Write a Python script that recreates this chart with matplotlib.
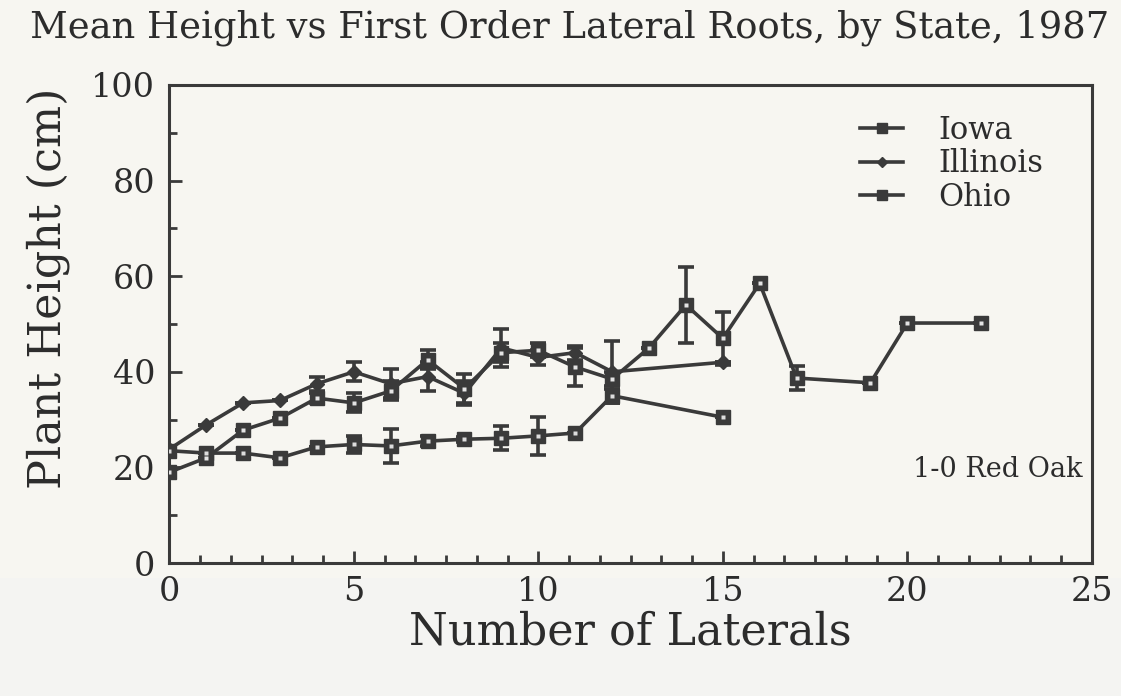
import matplotlib
matplotlib.use("Agg")
import matplotlib.pyplot as plt
from matplotlib.lines import Line2D
from matplotlib.patches import Rectangle
from matplotlib.ticker import MultipleLocator, AutoMinorLocator

# ---- data ----
iowa_x = [0, 1, 2, 3, 4, 5, 6, 7, 8, 9, 10, 11, 12, 15]
iowa_y = [23.5, 23.0, 23.0, 22.0, 24.3, 24.8, 24.5, 25.5, 25.9, 26.1, 26.6, 27.2, 35.0, 30.5]
iowa_err = [0, 0, 0, 0, 0, 1.8, 3.5, 1.0, 0.5, 2.5, 4.0, 0, 1.5, 0]

illinois_x = [0, 1, 2, 3, 4, 5, 6, 7, 8, 9, 10, 11, 12, 15]
illinois_y = [23.8, 28.9, 33.5, 34.0, 37.5, 40.0, 37.5, 39.0, 35.5, 45.0, 43.0, 44.0, 40.0, 42.0]
illinois_err = [0, 0, 0, 0, 1.5, 2.0, 3.0, 3.0, 2.5, 4.0, 1.5, 1.5, 6.5, 0]

ohio_x = [0, 1, 2, 3, 4, 5, 6, 7, 8, 9, 10, 11, 12, 13, 14, 15, 16, 17, 19, 20, 22]
ohio_y = [19.0, 22.0, 27.8, 30.3, 34.5, 33.5, 36.0, 42.5, 36.5, 44.0, 44.5, 41.0, 38.5, 45.0,
          54.0, 47.0, 58.5, 38.7, 37.7, 50.2, 50.2]
ohio_err = [0, 0, 0, 0, 1.0, 2.0, 2.0, 2.0, 3.0, 2.0, 1.5, 4.0, 1.5, 0, 8.0, 5.5, 0, 2.5, 0, 0, 0]

series_names = ["Iowa", "Illinois", "Ohio"]
title = "Mean Height vs First Order Lateral Roots, by State, 1987"
xlabel = "Number of Laterals"
ylabel = "Plant Height (cm)"
annotation = "1-0 Red Oak"

# ---- style ----
ink = "#3a3a3a"
txt = "#2c2c2c"
bg = "#f7f6f1"
plt.rcParams["font.family"] = ["DejaVu Serif"]

fig = plt.figure(figsize=(11.21, 6.96), dpi=100, facecolor=bg)
fig.patches.append(Rectangle((0, 0), 1, 0.17, transform=fig.transFigure,
                             facecolor="#f4f4f2", edgecolor="none", zorder=-10))
ax = fig.add_axes([0.151, 0.191, 0.823, 0.687])
ax.set_facecolor(bg)

common = dict(color=ink, lw=2.6, capsize=6, capthick=2.6, elinewidth=2.6)
ax.errorbar(iowa_x, iowa_y, yerr=iowa_err, marker="s", ms=10, mfc=ink, mec=ink, **common)
ax.plot(iowa_x, iowa_y, ls="none", marker="s", ms=3, mfc="#dcdcdc", mec="none", zorder=5)
ax.errorbar(illinois_x, illinois_y, yerr=illinois_err, marker="D", ms=7, mfc=ink, mec=ink, **common)
ax.errorbar(ohio_x, ohio_y, yerr=ohio_err, marker="s", ms=10, mfc=ink, mec=ink, **common)
ax.plot(ohio_x, ohio_y, ls="none", marker="s", ms=3.5, mfc="#e4e4e4", mec="none", zorder=5)

ax.set_xlim(0, 25)
ax.set_ylim(0, 100)
ax.xaxis.set_major_locator(MultipleLocator(5))
ax.xaxis.set_minor_locator(AutoMinorLocator(6))
ax.yaxis.set_major_locator(MultipleLocator(20))
ax.yaxis.set_minor_locator(AutoMinorLocator(2))
ax.tick_params(axis="both", which="both", direction="in", color=ink, width=2,
               top=False, right=False)
ax.tick_params(axis="both", which="major", length=9, labelsize=24, labelcolor=txt)
ax.tick_params(axis="x", which="major", pad=9)
ax.tick_params(axis="y", which="major", pad=10)
ax.tick_params(axis="both", which="minor", length=6)
for s in ax.spines.values():
    s.set_color(ink)
    s.set_linewidth(2.2)

ax.set_xlabel(xlabel, fontsize=32, color=txt)
ax.xaxis.set_label_coords(0.5, -0.098)
ax.set_ylabel(ylabel, fontsize=32, color=txt)
ax.yaxis.set_label_coords(-0.108, 0.575)
fig.text(0.027, 0.96, title, fontsize=26.6, color=txt, ha="left", va="center")
ax.text(24.75, 19.5, annotation, fontsize=19.5, color=txt, ha="right", va="center")

handles = [
    Line2D([], [], color=ink, lw=2.6, marker="s", ms=7, mfc=ink, mec=ink),
    Line2D([], [], color=ink, lw=2.6, marker="D", ms=5.5, mfc=ink, mec=ink),
    Line2D([], [], color=ink, lw=2.6, marker="s", ms=7, mfc=ink, mec=ink),
]
leg = ax.legend(handles, series_names, loc="upper left", frameon=False, fontsize=22,
                handlelength=1.4, borderaxespad=0, borderpad=0, labelspacing=0.08,
                handletextpad=1.15, bbox_to_anchor=(0.749, 0.937))
for t in leg.get_texts():
    t.set_color(txt)

fig.savefig("out.png", dpi=100, facecolor=bg)
